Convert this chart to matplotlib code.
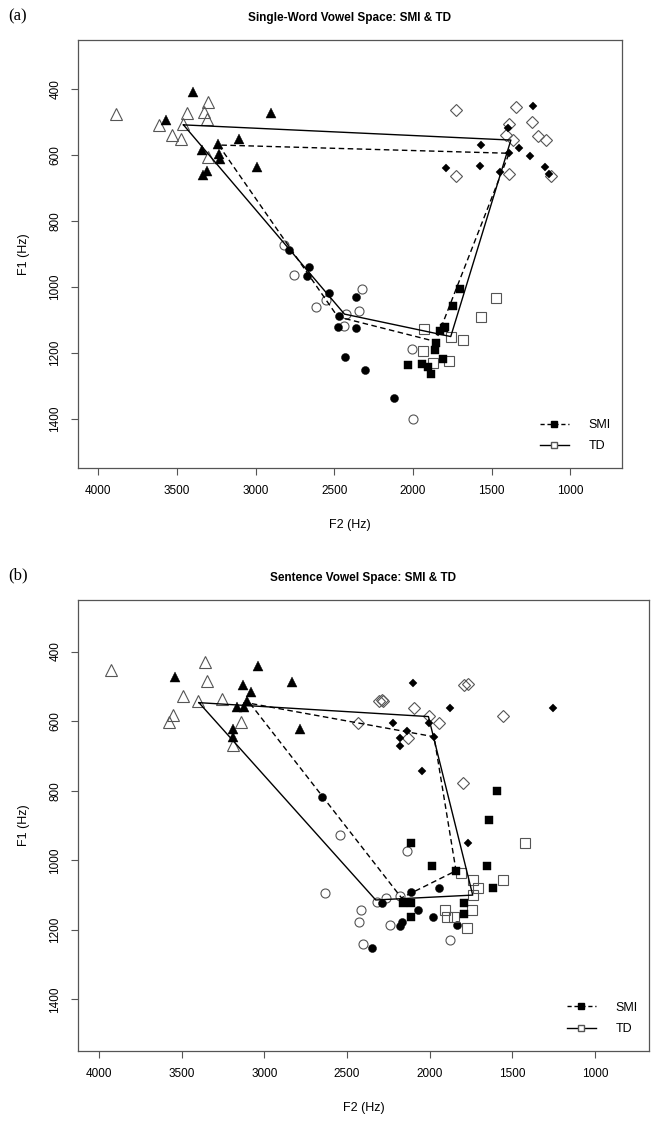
import matplotlib
matplotlib.use("Agg")
import matplotlib.pyplot as plt
from matplotlib.lines import Line2D

plt.rcParams['font.family'] = ['Liberation Sans', 'DejaVu Sans']

# ---- panel (a): single-word, points as (F2, F1) ----
a_i_td = [(3886, 476), (3612, 510), (3532, 540), (3472, 553), (3462, 506), (3436, 474),
          (3302, 439), (3326, 471), (3307, 491), (3299, 607)]
a_i_smi = [(3400, 408), (3568, 494), (3241, 567), (3341, 585), (3235, 597), (3229, 611),
           (3309, 649), (3337, 661), (3105, 553), (2899, 474), (2991, 638)]
a_ae_td = [(2821, 873), (2758, 965), (2551, 1039), (2619, 1060), (2322, 1007), (2344, 1072),
           (2439, 1118), (2428, 1083), (2008, 1188), (2000, 1400)]
a_ae_smi = [(2787, 888), (2662, 940), (2672, 967), (2535, 1019), (2361, 1031), (2471, 1088),
            (2477, 1122), (2365, 1125), (2431, 1213), (2305, 1251), (2118, 1337)]
a_a_td = [(1930, 1127), (1936, 1193), (1870, 1229), (1771, 1224), (1472, 1034), (1567, 1092),
          (1760, 1150), (1679, 1161)]
a_a_smi = [(2030, 1236), (1940, 1234), (1904, 1243), (1887, 1264), (1811, 1219), (1862, 1191),
           (1851, 1169), (1830, 1132), (1803, 1125), (1798, 1122), (1701, 1007), (1745, 1058)]
a_u_td = [(1728, 464), (1724, 664), (1346, 454), (1387, 506), (1245, 499), (1412, 540),
          (1363, 555), (1208, 542), (1153, 555), (1391, 658), (1124, 663)]
a_u_smi = [(1240, 452), (1399, 519), (1565, 571), (1326, 580), (1389, 595), (1257, 603),
           (1788, 641), (1577, 633), (1446, 653), (1162, 638), (1138, 659)]
a_td_space = [(3458, 509), (2435, 1082), (1760, 1150), (1378, 555)]
a_smi_space = [(3235, 570), (2478, 1090), (1856, 1165), (1389, 595)]

# ---- panel (b): sentence ----
b_i_td = [(3930, 453), (3361, 430), (3349, 484), (3491, 528), (3400, 542), (3255, 537),
          (3551, 582), (3575, 604), (3143, 603), (3188, 669)]
b_i_smi = [(3543, 474), (3037, 442), (2834, 488), (3127, 496), (3081, 517), (3107, 541),
           (3167, 559), (3123, 560), (2784, 624), (3188, 624), (3188, 647)]
b_ae_td = [(2542, 927), (2633, 1095), (2316, 1119), (2264, 1109), (2177, 1103), (2135, 972),
           (2239, 1186), (2413, 1143), (2425, 1176), (2405, 1241), (1876, 1229)]
b_ae_smi = [(2653, 819), (2288, 1122), (2114, 1090), (2068, 1143), (1941, 1079), (1981, 1164),
            (2169, 1176), (2179, 1188), (2350, 1251), (1832, 1186)]
b_a_td = [(1422, 949), (1810, 1036), (1739, 1057), (1705, 1079), (1553, 1057), (1739, 1100),
          (1745, 1143), (1906, 1143), (1896, 1164), (1852, 1164), (1775, 1195)]
b_a_smi = [(1594, 800), (1638, 884), (2114, 949), (1983, 1015), (1650, 1015), (1840, 1030),
           (1618, 1079), (1790, 1124), (1790, 1155), (2114, 1122), (2114, 1164), (2159, 1122)]
b_u_td = [(2306, 541), (2431, 606), (2290, 539), (2280, 541), (2092, 561), (2003, 584),
          (1941, 606), (1790, 496), (1765, 493), (1553, 584), (2132, 649), (1796, 777)]
b_u_smi = [(2102, 490), (1876, 561), (1251, 561), (2219, 606), (2135, 628), (2179, 648),
           (2179, 671), (2003, 606), (1973, 645), (2048, 742), (1769, 949)]
b_td_space = [(3396, 547), (2326, 1114), (1739, 1100), (2007, 587)]
b_smi_space = [(3087, 549), (2170, 1108), (1840, 1030), (1973, 645)]

f2_ticks = [4000, 3500, 3000, 2500, 2000, 1500, 1000]
f1_ticks = [400, 600, 800, 1000, 1200, 1400]

GREY = '#555555'


def scatter(ax, pts, marker, filled, size):
    xs = [p[0] for p in pts]
    ys = [p[1] for p in pts]
    if filled:
        ax.plot(xs, ys, ls='none', marker=marker, ms=size, mfc='black', mec='black', mew=0.3)
    else:
        ax.plot(xs, ys, ls='none', marker=marker, ms=size, mfc='none', mec=GREY, mew=0.8)


def space(ax, pts, ls):
    xs = [p[0] for p in pts] + [pts[0][0]]
    ys = [p[1] for p in pts] + [pts[0][1]]
    if ls == '--':
        ax.plot(xs, ys, color='black', ls='--', dashes=(4, 2.5), lw=1.0)
    else:
        ax.plot(xs, ys, color='black', ls='-', lw=1.0)


def panel(ax, title, letter, letter_y, data):
    (i_td, i_smi, ae_td, ae_smi, a_td, a_smi, u_td, u_smi, td_sp, smi_sp) = data
    scatter(ax, i_td, '^', False, 8)
    scatter(ax, i_smi, '^', True, 7)
    scatter(ax, ae_td, 'o', False, 6.5)
    scatter(ax, ae_smi, 'o', True, 5.8)
    scatter(ax, a_td, 's', False, 6.5)
    scatter(ax, a_smi, 's', True, 5.8)
    scatter(ax, u_td, 'D', False, 6.5)
    scatter(ax, u_smi, 'D', True, 4.2)
    space(ax, smi_sp, '--')
    space(ax, td_sp, '-')

    ax.set_xlim(4128, 672)
    ax.set_ylim(1548, 252)
    ax.set_xticks(f2_ticks)
    ax.set_yticks(f1_ticks)
    ax.set_xticklabels([str(t) for t in f2_ticks], fontsize=8.5)
    ax.set_yticklabels([str(t) for t in f1_ticks], fontsize=8.5, rotation=90, va='center')
    ax.tick_params(direction='out', length=5, color=GREY, pad=7)
    for s in ax.spines.values():
        s.set_color(GREY)
        s.set_linewidth(0.9)
    ax.set_xlabel('F2 (Hz)', fontsize=9, labelpad=16)
    ax.set_ylabel('F1 (Hz)', fontsize=9, labelpad=14)
    ax.set_title(title, fontsize=8.5, fontweight='bold', pad=14)
    fig.text(8 / 655, 1 - letter_y / 1128, letter, fontsize=12,
             family='Liberation Serif', va='center', ha='left')

    handles = [Line2D([], [], color='black', ls='--', dashes=(3, 2), lw=1, marker='s', ms=5,
                      mfc='black', mec='black'),
               Line2D([], [], color='black', ls='-', lw=1, marker='s', ms=5,
                      mfc='white', mec=GREY)]
    ax.legend(handles, ['SMI', 'TD'], loc='lower right', frameon=False, fontsize=9,
              handlelength=2.3, handletextpad=1.6, bbox_to_anchor=(1.0, 0.01),
              labelspacing=0.75)


fig = plt.figure(figsize=(6.55, 11.28), dpi=100)
ax_a = fig.add_axes([78 / 655, 1 - 468 / 1128, 544 / 655, 428 / 1128])
ax_b = fig.add_axes([78 / 655, 1 - 1051 / 1128, 571 / 655, 451 / 1128])

panel(ax_a, 'Single-Word Vowel Space: SMI & TD', '(a)', 16,
      (a_i_td, a_i_smi, a_ae_td, a_ae_smi, a_a_td, a_a_smi, a_u_td, a_u_smi,
       a_td_space, a_smi_space))
panel(ax_b, 'Sentence Vowel Space: SMI & TD', '(b)', 575,
      (b_i_td, b_i_smi, b_ae_td, b_ae_smi, b_a_td, b_a_smi, b_u_td, b_u_smi,
       b_td_space, b_smi_space))

fig.savefig('out.png', dpi=100)
